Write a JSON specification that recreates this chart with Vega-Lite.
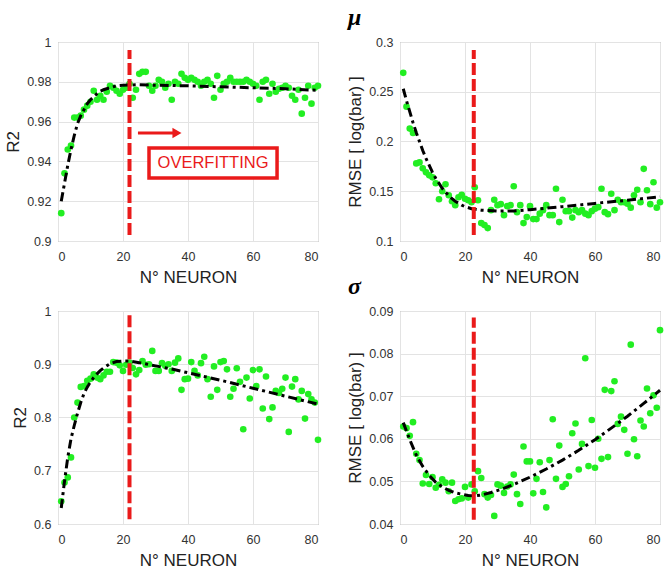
{
  "$schema": "https://vega.github.io/schema/vega-lite/v6.json",
  "padding": {"left": 4, "top": 5, "right": 5, "bottom": 3},
  "background": "white",
  "bounds": "flush",
  "columns": 2,
  "spacing": {"row": 70, "column": 82},
  "datasets": {
    "tl_pts": [{"n":1,"v":0.914},{"n":2,"v":0.934},{"n":3,"v":0.946},{"n":4,"v":0.948},{"n":5,"v":0.962},{"n":6,"v":0.962},{"n":7,"v":0.963},{"n":8,"v":0.966},{"n":9,"v":0.968},{"n":10,"v":0.970},{"n":11,"v":0.9755},{"n":12,"v":0.971},{"n":13,"v":0.973},{"n":14,"v":0.971},{"n":15,"v":0.975},{"n":16,"v":0.978},{"n":17,"v":0.977},{"n":18,"v":0.9755},{"n":19,"v":0.974},{"n":20,"v":0.976},{"n":21,"v":0.977},{"n":22,"v":0.979},{"n":23,"v":0.972},{"n":24,"v":0.976},{"n":25,"v":0.984},{"n":26,"v":0.985},{"n":27,"v":0.985},{"n":28,"v":0.978},{"n":29,"v":0.9755},{"n":30,"v":0.978},{"n":31,"v":0.981},{"n":32,"v":0.980},{"n":33,"v":0.977},{"n":34,"v":0.979},{"n":35,"v":0.971},{"n":36,"v":0.980},{"n":37,"v":0.979},{"n":38,"v":0.984},{"n":39,"v":0.982},{"n":40,"v":0.981},{"n":41,"v":0.982},{"n":42,"v":0.981},{"n":43,"v":0.980},{"n":44,"v":0.978},{"n":45,"v":0.980},{"n":46,"v":0.981},{"n":47,"v":0.979},{"n":48,"v":0.972},{"n":49,"v":0.983},{"n":50,"v":0.976},{"n":51,"v":0.979},{"n":52,"v":0.980},{"n":53,"v":0.982},{"n":54,"v":0.980},{"n":55,"v":0.980},{"n":56,"v":0.980},{"n":57,"v":0.980},{"n":58,"v":0.981},{"n":59,"v":0.980},{"n":60,"v":0.979},{"n":61,"v":0.978},{"n":62,"v":0.971},{"n":63,"v":0.980},{"n":64,"v":0.981},{"n":65,"v":0.974},{"n":66,"v":0.979},{"n":67,"v":0.975},{"n":68,"v":0.9765},{"n":69,"v":0.977},{"n":70,"v":0.978},{"n":71,"v":0.977},{"n":72,"v":0.973},{"n":73,"v":0.971},{"n":74,"v":0.976},{"n":75,"v":0.964},{"n":76,"v":0.972},{"n":77,"v":0.978},{"n":78,"v":0.969},{"n":79,"v":0.977},{"n":80,"v":0.978}],
    "tl_fit": [{"n":1,"v":0.920},{"n":2,"v":0.929},{"n":3,"v":0.938},{"n":4,"v":0.946},{"n":5,"v":0.953},{"n":6,"v":0.959},{"n":7,"v":0.963},{"n":8,"v":0.966},{"n":9,"v":0.969},{"n":10,"v":0.971},{"n":11,"v":0.9725},{"n":12,"v":0.974},{"n":13,"v":0.9753},{"n":14,"v":0.976},{"n":16,"v":0.977},{"n":18,"v":0.978},{"n":20,"v":0.9783},{"n":24,"v":0.9785},{"n":30,"v":0.9783},{"n":40,"v":0.978},{"n":50,"v":0.9775},{"n":60,"v":0.977},{"n":70,"v":0.9765},{"n":80,"v":0.9757}],
    "tr_pts": [{"n":1,"v":0.269},{"n":2,"v":0.235},{"n":3,"v":0.213},{"n":4,"v":0.2085},{"n":5,"v":0.178},{"n":6,"v":0.179},{"n":7,"v":0.173},{"n":8,"v":0.169},{"n":9,"v":0.166},{"n":10,"v":0.164},{"n":11,"v":0.158},{"n":12,"v":0.142},{"n":13,"v":0.150},{"n":14,"v":0.157},{"n":15,"v":0.146},{"n":16,"v":0.140},{"n":17,"v":0.136},{"n":18,"v":0.144},{"n":19,"v":0.1465},{"n":20,"v":0.1425},{"n":21,"v":0.141},{"n":22,"v":0.139},{"n":23,"v":0.154},{"n":24,"v":0.141},{"n":25,"v":0.118},{"n":26,"v":0.116},{"n":27,"v":0.113},{"n":28,"v":0.131},{"n":29,"v":0.1415},{"n":30,"v":0.136},{"n":31,"v":0.137},{"n":32,"v":0.126},{"n":33,"v":0.135},{"n":34,"v":0.136},{"n":35,"v":0.155},{"n":36,"v":0.129},{"n":37,"v":0.136},{"n":38,"v":0.118},{"n":39,"v":0.124},{"n":40,"v":0.135},{"n":41,"v":0.122},{"n":42,"v":0.122},{"n":43,"v":0.1275},{"n":44,"v":0.131},{"n":45,"v":0.136},{"n":46,"v":0.126},{"n":47,"v":0.126},{"n":48,"v":0.1525},{"n":49,"v":0.119},{"n":50,"v":0.1415},{"n":51,"v":0.130},{"n":52,"v":0.130},{"n":53,"v":0.1235},{"n":54,"v":0.131},{"n":55,"v":0.129},{"n":56,"v":0.131},{"n":57,"v":0.1275},{"n":58,"v":0.126},{"n":59,"v":0.130},{"n":60,"v":0.1325},{"n":61,"v":0.134},{"n":62,"v":0.1525},{"n":63,"v":0.129},{"n":64,"v":0.127},{"n":65,"v":0.1475},{"n":66,"v":0.131},{"n":67,"v":0.1415},{"n":68,"v":0.139},{"n":69,"v":0.139},{"n":70,"v":0.1375},{"n":71,"v":0.1335},{"n":72,"v":0.146},{"n":73,"v":0.1515},{"n":74,"v":0.139},{"n":75,"v":0.1725},{"n":76,"v":0.151},{"n":77,"v":0.137},{"n":78,"v":0.159},{"n":79,"v":0.1335},{"n":80,"v":0.139}],
    "tr_fit": [{"n":1,"v":0.253},{"n":2,"v":0.241},{"n":3,"v":0.230},{"n":4,"v":0.219},{"n":5,"v":0.209},{"n":6,"v":0.200},{"n":7,"v":0.191},{"n":8,"v":0.183},{"n":9,"v":0.176},{"n":10,"v":0.169},{"n":11,"v":0.163},{"n":12,"v":0.158},{"n":13,"v":0.153},{"n":14,"v":0.149},{"n":15,"v":0.1455},{"n":16,"v":0.1425},{"n":17,"v":0.140},{"n":18,"v":0.138},{"n":19,"v":0.136},{"n":20,"v":0.1345},{"n":22,"v":0.1325},{"n":25,"v":0.131},{"n":30,"v":0.130},{"n":35,"v":0.1302},{"n":40,"v":0.1315},{"n":50,"v":0.1345},{"n":60,"v":0.1378},{"n":70,"v":0.141},{"n":80,"v":0.1445}],
    "bl_pts": [{"n":1,"v":0.6425},{"n":2,"v":0.678},{"n":3,"v":0.6875},{"n":4,"v":0.725},{"n":5,"v":0.80},{"n":6,"v":0.828},{"n":7,"v":0.8575},{"n":8,"v":0.859},{"n":9,"v":0.869},{"n":10,"v":0.873},{"n":11,"v":0.881},{"n":12,"v":0.875},{"n":13,"v":0.872},{"n":14,"v":0.879},{"n":15,"v":0.886},{"n":16,"v":0.886},{"n":17,"v":0.904},{"n":18,"v":0.903},{"n":19,"v":0.898},{"n":20,"v":0.8875},{"n":21,"v":0.899},{"n":22,"v":0.903},{"n":23,"v":0.893},{"n":24,"v":0.881},{"n":25,"v":0.889},{"n":26,"v":0.906},{"n":27,"v":0.899},{"n":28,"v":0.9},{"n":29,"v":0.925},{"n":30,"v":0.8875},{"n":31,"v":0.8875},{"n":32,"v":0.902},{"n":33,"v":0.897},{"n":34,"v":0.9},{"n":35,"v":0.8875},{"n":36,"v":0.903},{"n":37,"v":0.911},{"n":38,"v":0.852},{"n":39,"v":0.872},{"n":40,"v":0.873},{"n":41,"v":0.904},{"n":42,"v":0.8875},{"n":43,"v":0.879},{"n":44,"v":0.902},{"n":45,"v":0.914},{"n":46,"v":0.872},{"n":47,"v":0.839},{"n":48,"v":0.896},{"n":49,"v":0.852},{"n":50,"v":0.904},{"n":51,"v":0.906},{"n":52,"v":0.8905},{"n":53,"v":0.839},{"n":54,"v":0.854},{"n":55,"v":0.8925},{"n":56,"v":0.867},{"n":57,"v":0.778},{"n":58,"v":0.875},{"n":59,"v":0.8356},{"n":60,"v":0.889},{"n":61,"v":0.859},{"n":62,"v":0.8905},{"n":63,"v":0.817},{"n":64,"v":0.877},{"n":65,"v":0.797},{"n":66,"v":0.819},{"n":67,"v":0.85},{"n":68,"v":0.846},{"n":69,"v":0.854},{"n":70,"v":0.875},{"n":71,"v":0.773},{"n":72,"v":0.858},{"n":73,"v":0.872},{"n":74,"v":0.834},{"n":75,"v":0.85},{"n":76,"v":0.798},{"n":77,"v":0.844},{"n":78,"v":0.834},{"n":79,"v":0.828},{"n":80,"v":0.758}],
    "bl_fit": [{"n":1,"v":0.63},{"n":2,"v":0.68},{"n":3,"v":0.725},{"n":4,"v":0.76},{"n":5,"v":0.785},{"n":6,"v":0.808},{"n":7,"v":0.828},{"n":8,"v":0.845},{"n":9,"v":0.857},{"n":10,"v":0.867},{"n":11,"v":0.875},{"n":12,"v":0.882},{"n":13,"v":0.888},{"n":14,"v":0.893},{"n":15,"v":0.897},{"n":16,"v":0.901},{"n":18,"v":0.905},{"n":20,"v":0.906},{"n":22,"v":0.906},{"n":25,"v":0.903},{"n":30,"v":0.897},{"n":35,"v":0.891},{"n":40,"v":0.884},{"n":50,"v":0.870},{"n":60,"v":0.855},{"n":70,"v":0.840},{"n":80,"v":0.825}],
    "br_pts": [{"n":1,"v":0.0629},{"n":2,"v":0.0625},{"n":3,"v":0.0607},{"n":4,"v":0.0639},{"n":5,"v":0.0565},{"n":6,"v":0.0550},{"n":7,"v":0.0495},{"n":8,"v":0.0515},{"n":9,"v":0.0494},{"n":10,"v":0.0510},{"n":11,"v":0.0485},{"n":12,"v":0.0492},{"n":13,"v":0.0505},{"n":14,"v":0.0497},{"n":15,"v":0.0477},{"n":16,"v":0.0497},{"n":17,"v":0.0454},{"n":18,"v":0.0458},{"n":19,"v":0.0460},{"n":20,"v":0.0487},{"n":21,"v":0.0462},{"n":22,"v":0.0493},{"n":23,"v":0.0477},{"n":24,"v":0.0524},{"n":25,"v":0.0508},{"n":26,"v":0.0470},{"n":27,"v":0.0462},{"n":28,"v":0.0468},{"n":29,"v":0.0419},{"n":30,"v":0.0493},{"n":31,"v":0.0490},{"n":32,"v":0.0473},{"n":33,"v":0.0488},{"n":34,"v":0.0493},{"n":35,"v":0.0516},{"n":36,"v":0.0470},{"n":37,"v":0.0447},{"n":38,"v":0.0582},{"n":39,"v":0.0547},{"n":40,"v":0.0547},{"n":41,"v":0.0472},{"n":42,"v":0.0506},{"n":43,"v":0.0545},{"n":44,"v":0.0475},{"n":45,"v":0.0439},{"n":46,"v":0.0550},{"n":47,"v":0.0646},{"n":48,"v":0.0506},{"n":49,"v":0.0584},{"n":50,"v":0.0487},{"n":51,"v":0.0494},{"n":52,"v":0.0512},{"n":53,"v":0.0613},{"n":54,"v":0.0636},{"n":55,"v":0.0528},{"n":56,"v":0.0588},{"n":57,"v":0.0789},{"n":58,"v":0.0536},{"n":59,"v":0.0644},{"n":60,"v":0.0532},{"n":61,"v":0.0600},{"n":62,"v":0.0553},{"n":63,"v":0.0715},{"n":64,"v":0.0557},{"n":65,"v":0.0712},{"n":66,"v":0.0735},{"n":67,"v":0.0635},{"n":68,"v":0.0652},{"n":69,"v":0.0621},{"n":70,"v":0.0565},{"n":71,"v":0.0821},{"n":72,"v":0.0599},{"n":73,"v":0.0559},{"n":74,"v":0.0643},{"n":75,"v":0.0629},{"n":76,"v":0.0718},{"n":77,"v":0.0660},{"n":78,"v":0.0702},{"n":79,"v":0.0673},{"n":80,"v":0.0855}],
    "br_fit": [{"n":1,"v":0.0638},{"n":3,"v":0.0598},{"n":5,"v":0.0562},{"n":7,"v":0.0535},{"n":9,"v":0.0514},{"n":11,"v":0.0498},{"n":13,"v":0.0487},{"n":15,"v":0.0479},{"n":17,"v":0.0473},{"n":19,"v":0.0470},{"n":21,"v":0.0467},{"n":23,"v":0.0466},{"n":25,"v":0.0468},{"n":28,"v":0.0474},{"n":31,"v":0.0481},{"n":35,"v":0.0493},{"n":40,"v":0.0510},{"n":45,"v":0.0529},{"n":50,"v":0.0550},{"n":55,"v":0.0573},{"n":60,"v":0.0598},{"n":65,"v":0.0625},{"n":70,"v":0.0653},{"n":75,"v":0.0683},{"n":80,"v":0.0714}]
  },
  "concat": [
    {
      "width": 260, "height": 199,
      "layer": [
        {"data": {"name": "tl_pts"}, "mark": {"type": "circle", "size": 44, "color": "#22ee22", "opacity": 1},
         "encoding": {
           "x": {"field": "n", "type": "quantitative", "scale": {"domain": [0, 80], "nice": false}, "axis": {"values": [0, 20, 40, 60, 80], "tickCount": 12, "title": "N° NEURON"}},
           "y": {"field": "v", "type": "quantitative", "scale": {"domain": [0.9, 1], "nice": false, "zero": false}, "axis": {"values": [0.9, 0.92, 0.94, 0.96, 0.98, 1], "tickCount": 12, "format": "~g", "title": "R2"}}}},
        {"data": {"name": "tl_fit"}, "mark": {"type": "line", "color": "black", "strokeWidth": 3, "strokeDash": [9, 4, 3, 4]},
         "encoding": {"x": {"field": "n", "type": "quantitative"}, "y": {"field": "v", "type": "quantitative"}}},
        {"data": {"values": [{"n": 22, "v": 0.903, "v2": 0.996}]}, "mark": {"type": "rule", "color": "#ea1a1a", "strokeWidth": 4, "strokeDash": [12, 4]},
         "encoding": {"x": {"field": "n", "type": "quantitative"}, "y": {"field": "v", "type": "quantitative"}, "y2": {"field": "v2"}}},
        {"data": {"values": [{"n": 28, "n2": 67.4, "v": 0.9317, "v2": 0.9467}]}, "mark": {"type": "rect", "fill": "white", "stroke": "#ea1a1a", "strokeWidth": 3.5},
         "encoding": {"x": {"field": "n", "type": "quantitative"}, "x2": {"field": "n2"}, "y": {"field": "v", "type": "quantitative"}, "y2": {"field": "v2"}}},
        {"data": {"values": [{"n": 47.7, "v": 0.9392, "label": "OVERFITTING"}]}, "mark": {"type": "text", "color": "#ea1a1a", "font": "Liberation Sans", "fontSize": 16.5, "align": "center", "baseline": "middle"},
         "encoding": {"x": {"field": "n", "type": "quantitative"}, "y": {"field": "v", "type": "quantitative"}, "text": {"field": "label"}}},
        {"data": {"values": [{"n": 24.6, "n2": 35.5, "v": 0.9543}]}, "mark": {"type": "rule", "color": "#ea1a1a", "strokeWidth": 3},
         "encoding": {"x": {"field": "n", "type": "quantitative"}, "x2": {"field": "n2"}, "y": {"field": "v", "type": "quantitative"}}},
        {"data": {"values": [{"n": 36.6, "v": 0.9543}]}, "mark": {"type": "point", "shape": "triangle-right", "filled": true, "size": 110, "color": "#ea1a1a", "opacity": 1},
         "encoding": {"x": {"field": "n", "type": "quantitative"}, "y": {"field": "v", "type": "quantitative"}}}
      ]
    },
    {
      "width": 260, "height": 199,
      "title": {"text": "μ", "anchor": "start", "frame": "group", "dx": -52, "offset": -13, "baseline": "alphabetic", "font": "Liberation Serif", "fontStyle": "italic", "fontWeight": "bold", "fontSize": 24, "color": "black"},
      "layer": [
        {"data": {"name": "tr_pts"}, "mark": {"type": "circle", "size": 44, "color": "#22ee22", "opacity": 1},
         "encoding": {
           "x": {"field": "n", "type": "quantitative", "scale": {"domain": [0, 80], "nice": false}, "axis": {"values": [0, 20, 40, 60, 80], "tickCount": 12, "title": "N° NEURON"}},
           "y": {"field": "v", "type": "quantitative", "scale": {"domain": [0.1, 0.3], "nice": false, "zero": false}, "axis": {"values": [0.1, 0.15, 0.2, 0.25, 0.3], "tickCount": 12, "format": "~g", "title": "RMSE [ log(bar) ]"}}}},
        {"data": {"name": "tr_fit"}, "mark": {"type": "line", "color": "black", "strokeWidth": 3, "strokeDash": [9, 4, 3, 4]},
         "encoding": {"x": {"field": "n", "type": "quantitative"}, "y": {"field": "v", "type": "quantitative"}}},
        {"data": {"values": [{"n": 22.7, "v": 0.106, "v2": 0.292}]}, "mark": {"type": "rule", "color": "#ea1a1a", "strokeWidth": 4, "strokeDash": [12, 4]},
         "encoding": {"x": {"field": "n", "type": "quantitative"}, "y": {"field": "v", "type": "quantitative"}, "y2": {"field": "v2"}}}
      ]
    },
    {
      "width": 260, "height": 213,
      "layer": [
        {"data": {"name": "bl_pts"}, "mark": {"type": "circle", "size": 44, "color": "#22ee22", "opacity": 1},
         "encoding": {
           "x": {"field": "n", "type": "quantitative", "scale": {"domain": [0, 80], "nice": false}, "axis": {"values": [0, 20, 40, 60, 80], "tickCount": 12, "title": "N° NEURON"}},
           "y": {"field": "v", "type": "quantitative", "scale": {"domain": [0.6, 1], "nice": false, "zero": false}, "axis": {"values": [0.6, 0.7, 0.8, 0.9, 1], "tickCount": 12, "format": "~g", "title": "R2"}}}},
        {"data": {"name": "bl_fit"}, "mark": {"type": "line", "color": "black", "strokeWidth": 3, "strokeDash": [9, 4, 3, 4]},
         "encoding": {"x": {"field": "n", "type": "quantitative"}, "y": {"field": "v", "type": "quantitative"}}},
        {"data": {"values": [{"n": 22, "v": 0.609, "v2": 0.992}]}, "mark": {"type": "rule", "color": "#ea1a1a", "strokeWidth": 4, "strokeDash": [12, 4]},
         "encoding": {"x": {"field": "n", "type": "quantitative"}, "y": {"field": "v", "type": "quantitative"}, "y2": {"field": "v2"}}}
      ]
    },
    {
      "width": 260, "height": 213,
      "title": {"text": "σ", "anchor": "start", "frame": "group", "dx": -52, "offset": -13, "baseline": "alphabetic", "font": "Liberation Serif", "fontStyle": "italic", "fontWeight": "bold", "fontSize": 24, "color": "black"},
      "layer": [
        {"data": {"name": "br_pts"}, "mark": {"type": "circle", "size": 44, "color": "#22ee22", "opacity": 1},
         "encoding": {
           "x": {"field": "n", "type": "quantitative", "scale": {"domain": [0, 80], "nice": false}, "axis": {"values": [0, 20, 40, 60, 80], "tickCount": 12, "title": "N° NEURON"}},
           "y": {"field": "v", "type": "quantitative", "scale": {"domain": [0.04, 0.09], "nice": false, "zero": false}, "axis": {"values": [0.04, 0.05, 0.06, 0.07, 0.08, 0.09], "tickCount": 12, "format": "~g", "title": "RMSE [ log(bar) ]"}}}},
        {"data": {"name": "br_fit"}, "mark": {"type": "line", "color": "black", "strokeWidth": 3, "strokeDash": [9, 4, 3, 4]},
         "encoding": {"x": {"field": "n", "type": "quantitative"}, "y": {"field": "v", "type": "quantitative"}}},
        {"data": {"values": [{"n": 22.7, "v": 0.041, "v2": 0.0885}]}, "mark": {"type": "rule", "color": "#ea1a1a", "strokeWidth": 4, "strokeDash": [12, 4]},
         "encoding": {"x": {"field": "n", "type": "quantitative"}, "y": {"field": "v", "type": "quantitative"}, "y2": {"field": "v2"}}}
      ]
    }
  ],
  "config": {
    "view": {"stroke": "#8a8a8a", "strokeWidth": 1},
    "axis": {"grid": true, "gridColor": "#e3e3e3", "gridWidth": 1, "domain": false, "ticks": false, "tickSize": 0, "labelOverlap": false, "labelFont": "Liberation Sans", "labelFontSize": 12.5, "labelColor": "#333333", "titleFont": "Liberation Sans", "titleFontSize": 17, "titleFontWeight": "normal", "titleColor": "#222222"},
    "axisX": {"labelPadding": 9, "titlePadding": 7},
    "axisY": {"labelPadding": 7, "titlePadding": 4}
  }
}
